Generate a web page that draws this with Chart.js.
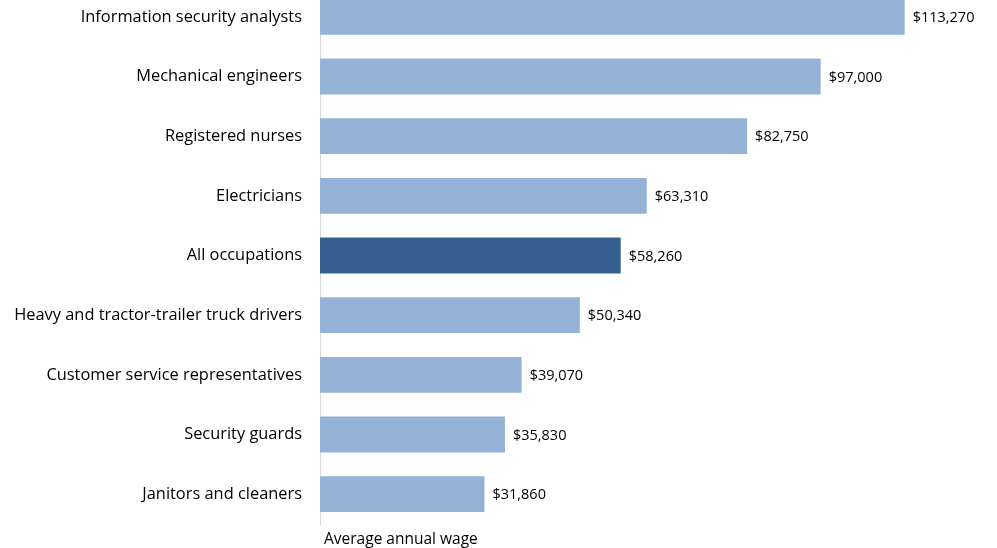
<!DOCTYPE html>
<html>
<head>
<meta charset="utf-8">
<script src="https://cdn.jsdelivr.net/npm/chart.js@4"></script>
<style>
  body { margin: 0; background: #fff; overflow: hidden; }
  #wrap { position: relative; width: 997px; height: 548px; overflow: hidden; }
  #wageChart { position: absolute; left: 0; top: -13px; }
</style>
</head>
<body>
<div id="wrap"><canvas id="wageChart" width="997" height="562"></canvas></div>
<script>
// ocupaciones y salario medio anual
const occupations = [
    'Information security analysts',
    'Mechanical engineers',
    'Registered nurses',
    'Electricians',
    'All occupations',
    'Heavy and tractor-trailer truck drivers',
    'Customer service representatives',
    'Security guards',
    'Janitors and cleaners'
];
const wages = [113270, 97000, 82750, 63310, 58260, 50340, 39070, 35830, 31860];
const highlight = 'All occupations';

const FONT = '"Open Sans", Lato, sans-serif';
const FONT_SIZE = 16.4;
const VALUE_SIZE = 14.5;

// etiquetas de valor al final de cada barra
const valueLabels = {
    id: 'valueLabels',
    afterDatasetsDraw(chart) {
        const ctx = chart.ctx;
        const meta = chart.getDatasetMeta(0);
        ctx.save();
        ctx.font = VALUE_SIZE + 'px ' + FONT;
        ctx.fillStyle = '#000';
        ctx.textAlign = 'left';
        ctx.textBaseline = 'middle';
        meta.data.forEach((bar, i) => {
            ctx.fillText('$' + wages[i].toLocaleString('en-US'), bar.x + 8, bar.y + 1);
        });
        ctx.restore();
    }
};

document.addEventListener('DOMContentLoaded', () => {
    const ctx = document.getElementById('wageChart').getContext('2d');
    new Chart(ctx, {
        type: 'bar',
        data: {
            labels: occupations,
            datasets: [{
                data: wages,
                backgroundColor: occupations.map(o => o === highlight ? '#366092' : '#95b3d7'),
                barPercentage: 0.6,
                categoryPercentage: 1.0
            }]
        },
        options: {
            indexAxis: 'y',
            responsive: false,
            animation: false,
            layout: { padding: { left: 0, right: 6, top: 0, bottom: 0 } },
            scales: {
                x: {
                    min: 0,
                    max: 130000,
                    ticks: { display: false },
                    grid: { display: false },
                    border: { display: false },
                    title: {
                        display: true,
                        text: ' Average annual wage',
                        align: 'start',
                        color: '#000',
                        font: { family: FONT, size: 15.5 },
                        padding: { top: 4, bottom: 0 }
                    },
                    afterFit(scale) {
                        scale.height = 25;
                        scale.paddingLeft = 0;
                        scale.paddingRight = 0;
                    }
                },
                y: {
                    grid: { display: false, drawTicks: false },
                    border: { display: true, color: '#d9d9d9', width: 1 },
                    ticks: {
                        color: '#000',
                        padding: 18,
                        font: { family: FONT, size: FONT_SIZE }
                    },
                    afterFit(scale) {
                        scale.width = 320;
                        scale.paddingTop = 0;
                        scale.paddingBottom = 0;
                    }
                }
            },
            plugins: {
                legend: { display: false },
                tooltip: { enabled: false }
            }
        },
        plugins: [valueLabels]
    });
});
</script>
</body>
</html>
